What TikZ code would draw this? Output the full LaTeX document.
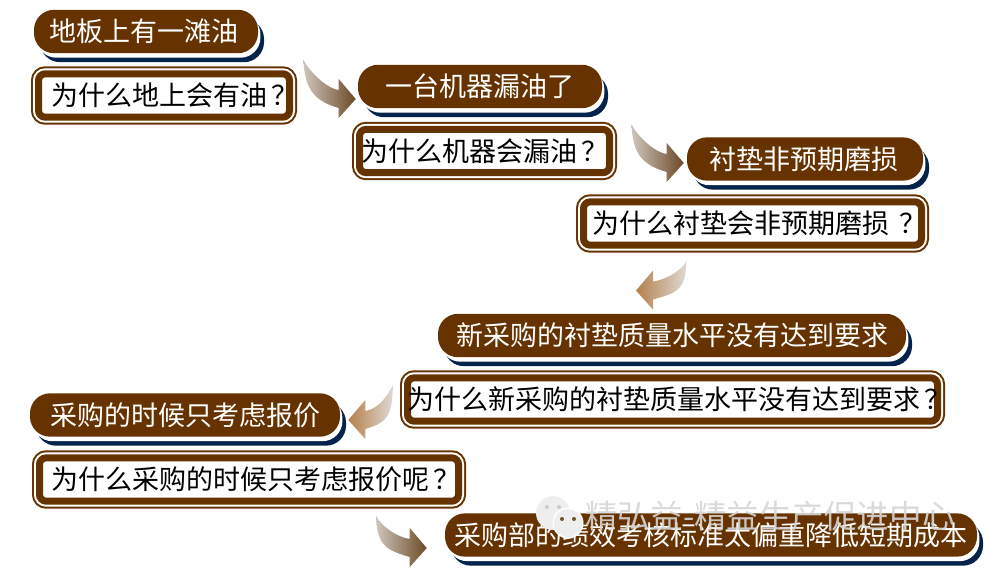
\documentclass[tikz,border=0pt]{standalone}
\usepackage{fontspec}
\setmainfont{Noto Sans CJK SC}
\usetikzlibrary{calc,shadows}
\definecolor{boxbrown}{HTML}{663300}
\definecolor{boxnavy}{HTML}{03234A}
\newcommand{\qmark}{\kern.15em？\kern-.55em}
\newcommand{\bentarrow}[4]{\shade[#4] (#1) .. controls +(#3*4,9) and +(#3*-14,-2) .. ($(#2)+(#3*-17,-9)$) -- ($(#2)+(#3*-17,-20)$) -- (#2) -- ($(#2)+(#3*-17,19)$) -- ($(#2)+(#3*-17,9)$) .. controls +(#3*-24,-7) and +(#3*1,30) .. (#1) -- cycle;}
\tikzset{
  answerbox/.style={fill=boxbrown, text=white, rounded corners=15pt, minimum height=32.5pt, inner sep=0pt, font=\fontsize{20.25}{24}\selectfont,
    general shadow={fill=boxnavy, shadow xshift=4.5pt, shadow yshift=-6.75pt},
    general shadow={fill=white, shadow xshift=1.8pt, shadow yshift=-3.4pt}},
  questionbox/.style={fill=white, draw=boxbrown, line width=5.25pt, rounded corners=5pt, minimum height=32.5pt, inner sep=0pt, font=\fontsize{20.25}{24}\selectfont,
    preaction={draw=boxbrown, line width=11.25pt},
    preaction={draw=white, line width=8.25pt}},
  bentright/.style={left color=brown!30!gray!45, right color=boxbrown!80!black!85},
  bentleft/.style={left color=boxbrown!70!orange!70, right color=brown!30!gray!30},
  chatbubble/.style={fill=gray!13}
}
\begin{document}
\begin{tikzpicture}[x=0.75pt,y=-0.75pt]
\useasboundingbox (0,0) rectangle (984,567);
\node[answerbox, minimum width=168pt] (oil) at (146,31.5) {地板上有一滩油\kern2.5pt};
\node[questionbox, minimum width=188.25pt] (whyoil) at (164,95.5) {\kern5pt 为什么地上会有油\qmark};
\node[answerbox, minimum width=183pt] (leak) at (480,86.5) {一台机器漏油了};
\node[questionbox, minimum width=187.5pt] (whyleak) at (484.5,151) {为什么机器会漏油\qmark\kern10pt};
\node[answerbox, minimum width=177pt] (gasket) at (805,159) {衬垫非预期磨损\kern2pt};
\node[questionbox, minimum width=253.5pt] (whygasket) at (752.5,223.5) {为什么衬垫会非预期磨损 \qmark};
\node[answerbox, minimum width=351pt] (quality) at (672,335.5) {新采购的衬垫质量水平没有达到要求};
\node[questionbox, minimum width=397.5pt] (whyquality) at (672.5,399.5) {为什么新采购的衬垫质量水平没有达到要求\qmark};
\node[answerbox, minimum width=232.5pt] (quote) at (185,415) {采购的时候只考虑报价};
\node[questionbox, minimum width=314.25pt] (whyquote) at (249,479.5) {为什么采购的时候只考虑报价呢\qmark};
\node[answerbox, minimum width=399pt] (kpi) at (711,535) {采购部的绩效考核标准太偏重降低短期成本};
% block arrows between the boxes
\coordinate (tail1) at ([shift={(10.5,-10.5)}]whyoil.north east);
\coordinate (tip1) at ([shift={(-2,12.5)}]leak.west);
\coordinate (tail2) at ([shift={(18.5,-1.5)}]whyleak.north east);
\coordinate (tip2) at ([shift={(-3,4)}]gasket.west);
\coordinate (tail3) at ([shift={(-238.5,12)}]whygasket.south east);
\coordinate (tip3) at ([shift={(-36,-23)}]quality.north);
\coordinate (tail4) at ([shift={(-11,-15)}]whyquality.west);
\coordinate (tip4) at ([shift={(8,5)}]quote.east);
\coordinate (tail5) at ([shift={(-86,11)}]whyquote.south east);
\coordinate (tip5) at ([shift={(-18,13)}]kpi.west);
\bentarrow{tail1}{tip1}{1}{bentright}
\bentarrow{tail2}{tip2}{1}{bentright}
\bentarrow{tail3}{tip3}{-1}{bentleft}
\bentarrow{tail4}{tip4}{-1}{bentleft}
\bentarrow{tail5}{tip5}{1}{bentright}
% watermark
\fill[chatbubble] (553,513) circle (17);
\fill[white] (568,523) circle (15.5);
\fill[chatbubble] (568,523) circle (14);
\fill[gray!40] (547,507) circle (2) (559,507) circle (2);
\fill[boxbrown!60!gray] (562,519) circle (2) (574,519) circle (2);
\node[text=gray!32, opacity=.9, inner sep=0pt, font=\fontsize{24.4}{28}\selectfont] (mark) at (770,516) {精弘益-精益生产促进中心};
\end{tikzpicture}
\end{document}
